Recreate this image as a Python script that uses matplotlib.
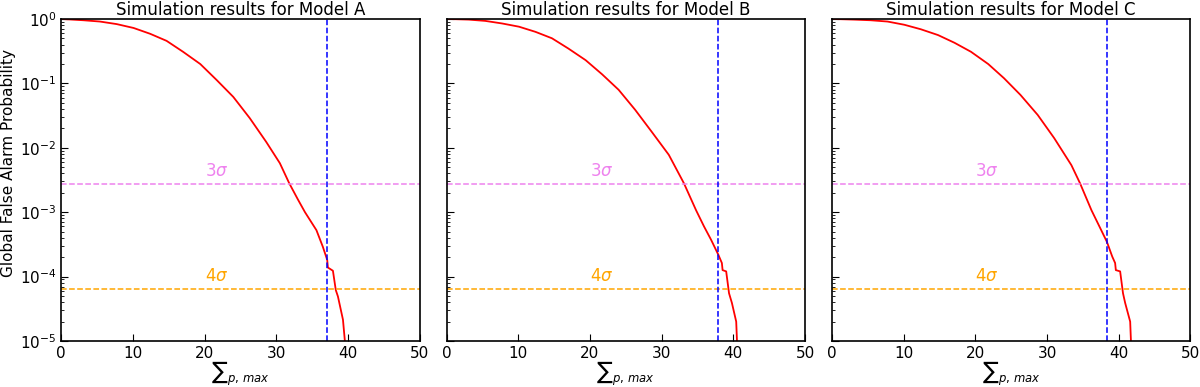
import numpy as np
import matplotlib.pyplot as plt

# Sigma thresholds (two-sided)
p_3sigma = 2.7e-3
p_4sigma = 6.33e-5

models = ['A', 'B', 'C']

# Global FAP curves: x values and log10(FAP)
x_a = [0, 3.1, 5.4, 7.75, 10.1, 12.4, 14.7, 17.0, 19.4, 21.7, 24.0, 26.3, 28.6, 30.5,
       31.8, 33.0, 34.0, 35.6, 36.5, 37.1, 37.2, 37.9, 38.3, 38.6, 39.3, 39.55, 39.6]
logp_a = [0, -0.02, -0.04, -0.08, -0.14, -0.23, -0.34, -0.51, -0.70, -0.95, -1.21, -1.54,
          -1.91, -2.24, -2.55, -2.80, -3.0, -3.28, -3.54, -3.74, -3.86, -3.91, -4.21,
          -4.31, -4.67, -4.98, -5.3]

x_b = [0, 3.1, 5.4, 7.75, 10.1, 12.4, 14.7, 17.0, 19.4, 21.7, 24.0, 26.3, 28.6, 31.0,
       33.1, 34.8, 35.9, 36.9, 37.9, 38.4, 38.5, 39.0, 39.4, 39.8, 40.4, 40.5, 40.55]
logp_b = [0, -0.01, -0.03, -0.07, -0.12, -0.20, -0.30, -0.46, -0.64, -0.86, -1.10, -1.41,
          -1.75, -2.11, -2.55, -2.97, -3.22, -3.43, -3.66, -3.79, -3.90, -3.92, -4.26,
          -4.41, -4.70, -4.98, -5.3]

x_c = [0, 3.1, 5.4, 7.75, 10.1, 12.4, 14.8, 17.1, 19.4, 21.8, 24.0, 26.3, 28.7, 31.0,
       33.4, 34.6, 36.2, 37.3, 38.35, 39.1, 39.5, 39.6, 40.2, 40.6, 40.9, 41.6, 41.7, 41.75]
logp_c = [0, -0.01, -0.02, -0.04, -0.09, -0.16, -0.25, -0.37, -0.51, -0.70, -0.92, -1.18,
          -1.49, -1.85, -2.27, -2.55, -2.97, -3.22, -3.46, -3.69, -3.79, -3.90, -3.92,
          -4.26, -4.41, -4.70, -4.98, -5.3]

# Observed values (vertical lines)
x_obs = [37.1, 37.9, 38.4]

curves = [(x_a, logp_a), (x_b, logp_b), (x_c, logp_c)]

fig, axes = plt.subplots(1, 3, figsize=(12, 3.87), dpi=100, sharey=True)
fig.subplots_adjust(left=0.051, right=0.992, bottom=0.119, top=0.951, wspace=0.075)

for ax, model, (xs, lp), xo in zip(axes, models, curves, x_obs):
    ax.plot(xs, 10 ** np.array(lp), color='red', lw=1.3)
    ax.axhline(p_3sigma, color='violet', ls='--', lw=1.1)
    ax.axhline(p_4sigma, color='orange', ls='--', lw=1.1)
    ax.axvline(xo, color='blue', ls='--', lw=1.1)
    ax.text(20, p_3sigma * 1.15, r'$3\sigma$', color='violet', fontsize=12, va='bottom')
    ax.text(20, p_4sigma * 1.15, r'$4\sigma$', color='orange', fontsize=12, va='bottom')
    ax.set_yscale('log')
    ax.set_xlim(0, 50)
    ax.set_ylim(1e-5, 1)
    ax.set_title(f'Simulation results for Model {model}', fontsize=12, pad=3)
    ax.set_xlabel(r'$\sum{}_{p,\,max}$', fontsize=12, labelpad=-1)
    ax.tick_params(which='both', direction='in', labelsize=11)
    ax.tick_params(which='major', length=5)
    ax.tick_params(which='minor', length=2.5)
    for s in ax.spines.values():
        s.set_linewidth(1.2)

axes[0].set_ylabel('Global False Alarm Probability', fontsize=11)
axes[0].yaxis.set_label_coords(-0.125, 0.553)

plt.savefig('out.png')
